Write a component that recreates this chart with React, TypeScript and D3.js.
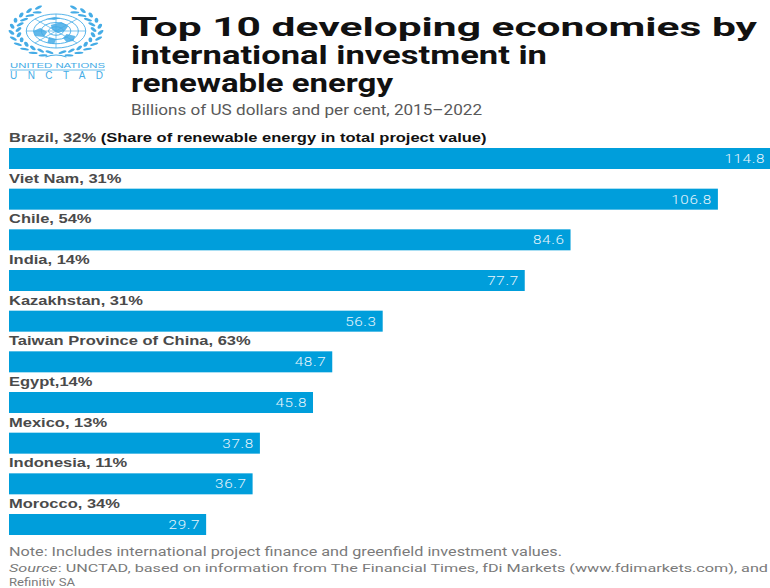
import React from "react";
import * as d3 from "d3";

const labels = [
  "Brazil, 32%",
  "Viet Nam, 31%",
  "Chile, 54%",
  "India, 14%",
  "Kazakhstan, 31%",
  "Taiwan Province of China, 63%",
  "Egypt,14%",
  "Mexico, 13%",
  "Indonesia, 11%",
  "Morocco, 34%",
];
const values = [114.8, 106.8, 84.6, 77.7, 56.3, 48.7, 45.8, 37.8, 36.7, 29.7];
const firstNote = "(Share of renewable energy in total project value)";
const titleLines = [
  "Top 10 developing economies by",
  "international investment in",
  "renewable energy",
];
const subtitle = "Billions of US dollars and per cent, 2015\u20132022";
const note = "Note: Includes international project finance and greenfield investment values.";
const sourceRest = ": UNCTAD, based on information from The Financial Times, fDi Markets (www.fdimarkets.com), and";
const sourceLine2 = "Refinitiv SA";

const W = 770;
const H = 588;
const BLUE = "#009edb";
const LOGO = "#45ace6";
const SX = 1.27;

function Emblem() {
  const rings = [17, 12.75, 8.5, 4.25];
  const spokes = d3.range(8).map((i) => (i * Math.PI) / 4);
  const leaves: { x: number; y: number; a: number }[] = [];
  [-1, 1].forEach((side) => {
    d3.range(11).forEach((i) => {
      const th = ((80 - i * 14) * Math.PI) / 180;
      [21.5, 25.5].forEach((r, k) => {
        const t = th - (k ? 0.12 : 0);
        leaves.push({
          x: side * r * Math.cos(t),
          y: r * Math.sin(t),
          a: side * ((t * 180) / Math.PI + 90 + (k ? 25 : -25)),
        });
      });
    });
  });
  const land = [
    "M-3,-6 L3,-9 L7,-5 L5,0 L1,2 L-2,-1 Z",
    "M6,3 L11,5 L10,10 L6,11 L4,7 Z",
    "M-9,-3 L-5,1 L-7,6 L-12,5 L-13,0 Z",
    "M-4,6 L0,8 L-1,13 L-5,12 Z",
    "M-6,-12 L-1,-14 L3,-13 L-1,-11 Z",
  ];
  return (
    <g transform="translate(56,31) scale(1.75,1)">
      {rings.map((r, i) => (
        <circle key={i} r={r} fill="none" stroke={LOGO} strokeWidth={0.9} vectorEffect="non-scaling-stroke" />
      ))}
      {spokes.map((a, i) => (
        <line key={i} x1={0} y1={0} x2={17 * Math.cos(a)} y2={17 * Math.sin(a)} stroke={LOGO} strokeWidth={0.7} vectorEffect="non-scaling-stroke" />
      ))}
      {land.map((d, i) => (
        <path key={i} d={d} fill={LOGO} opacity={0.85} />
      ))}
      {leaves.map((l, i) => (
        <ellipse key={i} cx={l.x} cy={l.y} rx={2.6} ry={1.1} fill={LOGO} transform={`rotate(${l.a},${l.x},${l.y})`} />
      ))}
      <path d="M-6,26 Q0,22 6,26" fill="none" stroke={LOGO} strokeWidth={1.2} vectorEffect="non-scaling-stroke" />
    </g>
  );
}

export default function App() {
  const x = d3.scaleLinear().domain([0, 114.8]).range([9, 771]);
  const y = d3
    .scaleBand<string>()
    .domain(labels)
    .range([148, 535])
    .paddingInner(0.4837)
    .paddingOuter(0)
    .align(0);

  const labelFont = "'Liberation Sans', Arial, sans-serif";
  const roboto = "Roboto, 'Noto Sans', sans-serif";

  return (
    <svg
      width={W}
      height={H}
      style={{ position: "absolute", left: 0, top: 0, background: "#fff" }}
    >
      <rect width={W} height={H} fill="#fff" />
      <Emblem />
      <text x={10} y={68} fontFamily={labelFont} fontSize={7.5} fill={LOGO} textLength={95} lengthAdjust="spacingAndGlyphs">
        UNITED NATIONS
      </text>
      <line x1={10} x2={105} y1={70} y2={70} stroke={LOGO} strokeWidth={0.8} />
      <text x={10} y={79} fontFamily={labelFont} fontSize={10} fill={LOGO} textLength={93} lengthAdjust="spacing">
        UNCTAD
      </text>

      {titleLines.map((t, i) => (
        <text
          key={i}
          x={131}
          y={36 + i * 28}
          fontFamily={roboto}
          fontWeight={700}
          fontSize={26}
          fill="#111"
          textLength={[626, 416, 262][i]}
          lengthAdjust="spacingAndGlyphs"
        >
          {t}
        </text>
      ))}
      <text x={131} y={115} fontFamily={roboto} fontSize={15} fill="#595959" textLength={351} lengthAdjust="spacingAndGlyphs">
        {subtitle}
      </text>

      {labels.map((lab, i) => {
        const top = y(lab) as number;
        return (
          <g key={lab}>
            <rect x={x(0)} y={top} width={x(values[i]) - x(0)} height={y.bandwidth()} fill={BLUE} />
            <text
              transform={`translate(9,${top - 6}) scale(${SX},1)`}
              fontFamily={labelFont}
              fontWeight={700}
              fontSize={13}
              fill="#4a4a4a"
            >
              {lab}
              {i === 0 ? (
                <tspan fill="#111">{" " + firstNote}</tspan>
              ) : null}
            </text>
            <text
              transform={`translate(${x(values[i]) - 6},${top + y.bandwidth() / 2 + 4.5}) scale(${SX},1)`}
              fontFamily={roboto}
              fontSize={12}
              fontWeight={300}
              letterSpacing={0.5}
              textAnchor="end"
              fill="#e8f5fc"
            >
              {values[i].toFixed(1)}
            </text>
          </g>
        );
      })}

      <text x={9} y={556} fontFamily={roboto} fontSize={12} fill="#7a7a7a" textLength={553} lengthAdjust="spacingAndGlyphs">
        {note}
      </text>
      <text x={9} y={572} fontFamily={roboto} fontSize={11.5} fill="#7a7a7a" textLength={759} lengthAdjust="spacingAndGlyphs">
        <tspan fontStyle="italic">Source</tspan>
        {sourceRest}
      </text>
      <text x={9} y={585.5} fontFamily={roboto} fontSize={11} fill="#7a7a7a" textLength={66} lengthAdjust="spacingAndGlyphs">
        {sourceLine2}
      </text>
    </svg>
  );
}
